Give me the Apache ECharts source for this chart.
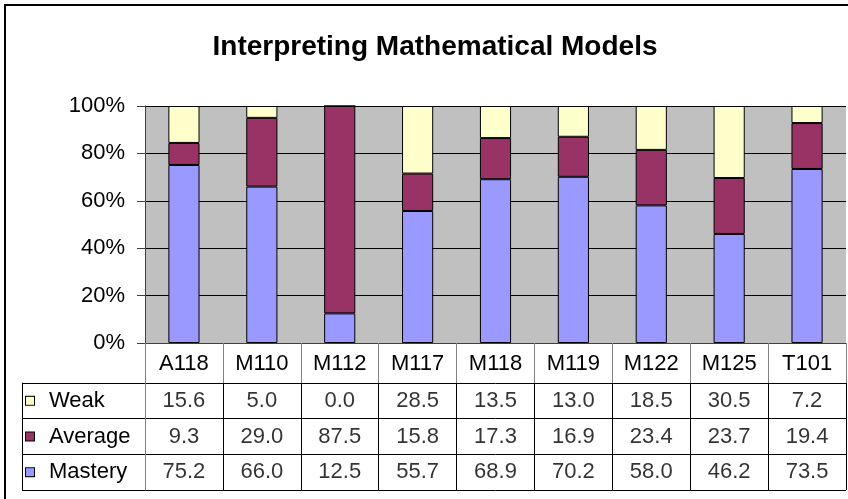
<!DOCTYPE html>
<html>
<head>
<meta charset="utf-8">
<script src="https://cdn.jsdelivr.net/npm/echarts@6/dist/echarts.min.js"></script>
<style>
  html, body { margin: 0; padding: 0; background: #fff; }
  #chart { width: 848px; height: 499px; }
</style>
</head>
<body>
<div id="chart"></div>
<script>
// Course codes along the x axis
const categories = ['A118', 'M110', 'M112', 'M117', 'M118', 'M119', 'M122', 'M125', 'T101'];

// Percent of students per performance band
const weak    = [15.6, 5.0, 0.0, 28.5, 13.5, 13.0, 18.5, 30.5, 7.2];
const average = [9.3, 29.0, 87.5, 15.8, 17.3, 16.9, 23.4, 23.7, 19.4];
const mastery = [75.2, 66.0, 12.5, 55.7, 68.9, 70.2, 58.0, 46.2, 73.5];

// Bands, bottom of the stack first
const seriesNames  = ['Mastery', 'Average', 'Weak'];
const seriesColors = ['#9999FF', '#993366', '#FFFFCC'];

// Percentage axis ticks
const yTicks = [0, 20, 40, 60, 80, 100];

const FONT = "'Liberation Sans', Arial, Helvetica, sans-serif";
const bands = [mastery, average, weak];

// 100% stacked: each column is scaled by its own total
const totals = categories.map((_, i) => bands.reduce((s, arr) => s + arr[i], 0));
const share = arr => arr.map((v, i) => v / totals[i] * 100);

// Data-table cells: [course, band, value]
const cells = [];
bands.forEach((arr, r) => arr.forEach((v, c) => cells.push([categories[c], seriesNames[r], v])));

// Legend keys inside the table's first column
const rich = { t: { fontSize: 22, fontFamily: FONT, color: '#000', padding: [0, 0, 0, 15], verticalAlign: 'middle' } };
seriesNames.forEach((n, i) => {
  rich['k' + i] = {
    width: 8, height: 8,
    backgroundColor: seriesColors[i],
    borderColor: '#000', borderWidth: 1,
    verticalAlign: 'middle'
  };
});

const chart = echarts.init(document.getElementById('chart'), null, { renderer: 'canvas' });

chart.setOption({
  animation: false,
  title: {
    text: 'Interpreting Mathematical Models',
    left: 430,
    textAlign: 'center',
    top: 28,
    textStyle: { fontSize: 28, fontWeight: 'bold', color: '#000', fontFamily: FONT }
  },
  graphic: [{
    type: 'rect',
    silent: true,
    shape: { x: 5, y: 5, width: 1000, height: 1000 },
    style: { fill: 'none', stroke: '#000', lineWidth: 2 }
  }],
  grid: [
    { left: 145, right: 2, top: 106, bottom: 156, show: true, backgroundColor: '#C0C0C0', borderWidth: 0 },
    { left: 145, right: 2, top: 383, bottom: 9, show: false }
  ],
  xAxis: [
    {
      gridIndex: 0,
      type: 'category',
      data: categories,
      axisLine: { lineStyle: { color: '#404040', width: 1 } },
      axisTick: { show: true, length: 40, lineStyle: { color: '#808080' } },
      axisLabel: { fontSize: 22, color: '#000', fontFamily: FONT, margin: 10 },
      splitLine: { show: false }
    },
    {
      gridIndex: 1,
      type: 'category',
      data: categories,
      axisLine: { show: false },
      axisTick: { show: false },
      axisLabel: { show: false },
      splitLine: { show: true, lineStyle: { color: '#000', width: 1 } }
    }
  ],
  yAxis: [
    {
      gridIndex: 0,
      type: 'value',
      min: yTicks[0],
      max: yTicks[yTicks.length - 1],
      interval: yTicks[1] - yTicks[0],
      axisLine: { show: true, lineStyle: { color: '#404040' } },
      axisTick: { show: true, length: 8, lineStyle: { color: '#404040' } },
      axisLabel: { formatter: v => v + '%', fontSize: 22, color: '#000', fontFamily: FONT, margin: 20 },
      splitLine: { show: true, lineStyle: { color: '#000', width: 1 } }
    },
    {
      gridIndex: 1,
      type: 'category',
      data: seriesNames,
      axisLine: { show: true, lineStyle: { color: '#808080' } },
      axisTick: { show: true, length: 123, lineStyle: { color: '#000' } },
      splitLine: { show: true, lineStyle: { color: '#000', width: 1 } },
      axisLabel: {
        align: 'left',
        margin: 119,
        formatter: name => '{k' + seriesNames.indexOf(name) + '|}{t|' + name + '}',
        rich: rich
      }
    },
    {
      gridIndex: 1,
      type: 'category',
      data: seriesNames,
      position: 'left',
      offset: 123,
      axisLine: { show: true, lineStyle: { color: '#000' } },
      axisTick: { show: false },
      axisLabel: { show: false },
      splitLine: { show: false }
    }
  ],
  series: bands.map((arr, i) => ({
    name: seriesNames[i],
    type: 'bar',
    stack: 'share',
    xAxisIndex: 0,
    yAxisIndex: 0,
    barWidth: '40%',
    itemStyle: { color: seriesColors[i], borderColor: '#000', borderWidth: 1 },
    data: share(arr)
  })).concat([{
    name: 'table',
    type: 'scatter',
    xAxisIndex: 1,
    yAxisIndex: 1,
    symbolSize: 1,
    itemStyle: { color: 'rgba(0,0,0,0)' },
    label: {
      show: true,
      position: 'inside',
      formatter: p => p.value[2].toFixed(1),
      fontSize: 22,
      color: '#000',
      fontFamily: FONT
    },
    data: cells
  }])
});
</script>
</body>
</html>
